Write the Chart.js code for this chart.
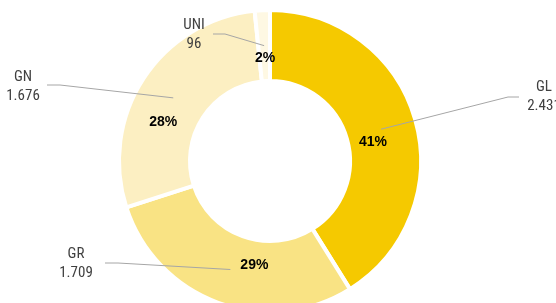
<!DOCTYPE html>
<html>
<head>
<meta charset="utf-8">
<script src="https://cdn.jsdelivr.net/npm/chart.js@4/dist/chart.umd.min.js"></script>
<style>
  html, body { margin: 0; padding: 0; background: #fff; overflow: hidden; }
  #wrap { position: relative; width: 556px; height: 330px; }
</style>
</head>
<body>
<div id="wrap"><canvas id="donut"></canvas></div>
<script>
// Data
const categories = ['GL', 'GR', 'GN', 'UNI'];
const values = [2431, 1709, 1676, 96];

// Styles
const sliceColors = ['#F5C900', '#F9E384', '#FCEFC2', '#FEF8E3'];
// where the name/value labels sit, and the elbow of each leader line
const labelPos = [[544, 87], [76, 254], [23, 77], [194, 25]];
const elbowFrom = [[519, 97], [105, 263], [47, 85], [213, 34]];
const elbowTo = [[508, 97], [118, 263], [60, 85], [225, 34]];
// nudge of the percent label away from the slice centre
const pctShift = [[-8, 13], [24, -4], [-10, 24], [1, 13]];

const total = values.reduce((a, b) => a + b, 0);

function fmt(v) {
  return String(v).replace(/\B(?=(\d{3})+(?!\d))/g, '.');
}

const labelPlugin = {
  id: 'outerLabels',
  afterDatasetsDraw(chart) {
    const ctx = chart.ctx;
    const arcs = chart.getDatasetMeta(0).data;
    ctx.save();
    arcs.forEach((arc, i) => {
      const c = arc.getCenterPoint();

      // leader line
      ctx.strokeStyle = '#a6a6a6';
      ctx.lineWidth = 1;
      ctx.beginPath();
      ctx.moveTo(elbowFrom[i][0], elbowFrom[i][1]);
      ctx.lineTo(elbowTo[i][0], elbowTo[i][1]);
      ctx.lineTo(c.x, c.y);
      ctx.stroke();

      // percent
      ctx.fillStyle = '#000';
      ctx.font = 'bold 14px "Liberation Sans", Arial, sans-serif';
      ctx.textAlign = 'center';
      ctx.textBaseline = 'middle';
      const pct = Math.round(values[i] / total * 100) + '%';
      ctx.fillText(pct, c.x + pctShift[i][0], c.y + pctShift[i][1]);

      // name + value
      ctx.fillStyle = '#404040';
      ctx.font = '15px "Liberation Sans Narrow", "Roboto Condensed", "Liberation Sans", sans-serif';
      ctx.fillText(categories[i], labelPos[i][0], labelPos[i][1]);
      ctx.fillText(fmt(values[i]), labelPos[i][0], labelPos[i][1] + 19);
    });
    ctx.restore();
  }
};

new Chart(document.getElementById('donut'), {
  type: 'doughnut',
  data: {
    labels: categories,
    datasets: [{
      data: values,
      backgroundColor: sliceColors,
      borderColor: '#ffffff',
      borderWidth: 4
    }]
  },
  options: {
    responsive: true,
    maintainAspectRatio: false,
    animation: false,
    cutout: '53%',
    layout: {
      padding: { left: 117, right: 133, top: 8, bottom: 16 }
    },
    plugins: {
      legend: { display: false },
      tooltip: { enabled: false }
    }
  },
  plugins: [labelPlugin]
});
</script>
</body>
</html>
